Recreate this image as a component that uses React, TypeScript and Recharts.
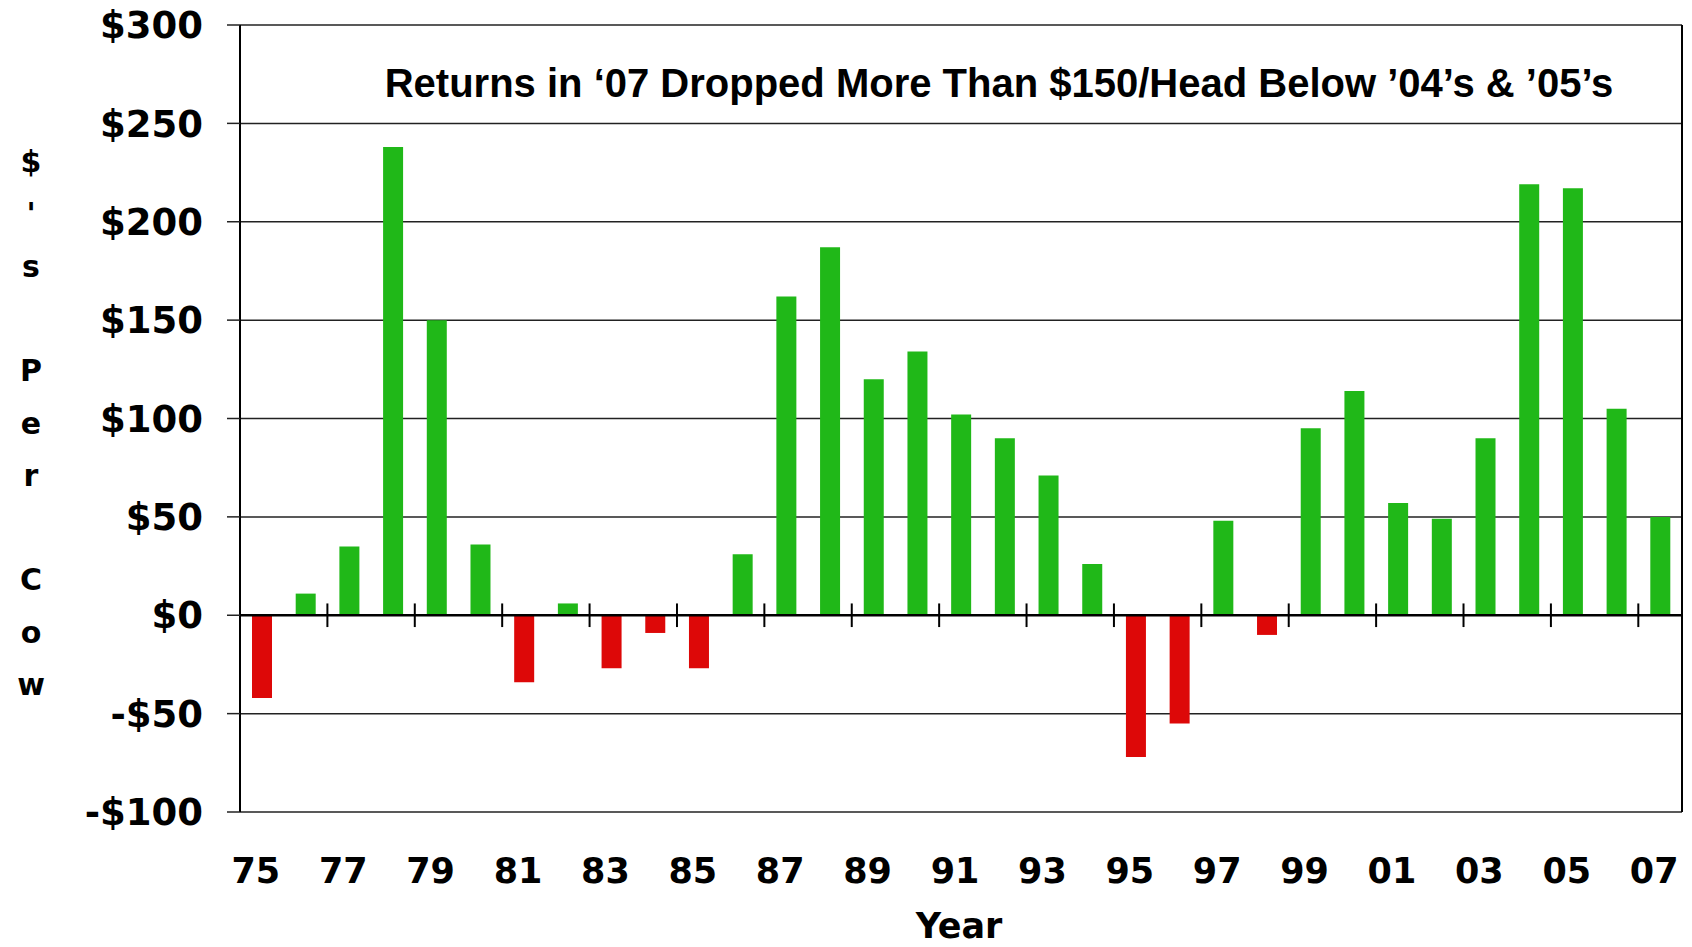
import React from "react";
import { BarChart, Bar, Cell, XAxis, YAxis, CartesianGrid, ReferenceLine } from "recharts";

const years = [
  "75", "76", "77", "78", "79", "80", "81", "82", "83", "84", "85",
  "86", "87", "88", "89", "90", "91", "92", "93", "94", "95", "96",
  "97", "98", "99", "00", "01", "02", "03", "04", "05", "06", "07",
];

// $ per cow
const returns = [
  -42, 11, 35, 238, 150, 36, -34, 6, -27, -9, -27,
  31, 162, 187, 120, 134, 102, 90, 71, 26, -72, -55,
  48, -10, 95, 114, 57, 49, 90, 219, 217, 105, 50,
];

const yTicks = [-100, -50, 0, 50, 100, 150, 200, 250, 300];

const title = "Returns in \u201807 Dropped More Than $150/Head Below \u201904\u2019s & \u201905\u2019s";
const yLabel = ["$", "'", "s", "", "P", "e", "r", "", "C", "o", "w"];
const xLabel = "Year";

const GREEN = "#20B818";
const RED = "#DD0808";
const FONT = "'DejaVu Sans', sans-serif";

const data = years.map((year, i) => ({ year, value: returns[i] }));

// tick marks across the zero line, every second category boundary
const crossTicks = years.filter((_, i) => i > 0 && i % 2 === 0);

const fmt = (v: number) => (v < 0 ? `-$${-v}` : `$${v}`);

export default function App() {
  return (
    <div style={{ position: "absolute", left: 0, top: 0, background: "#fff" }}>
      <BarChart
        width={1692}
        height={947}
        data={data}
        margin={{ top: 25, right: 10, left: 0, bottom: 0 }}
        barSize={20}
      >
        <CartesianGrid vertical={false} stroke="#222" strokeWidth={1.5} />
        <XAxis
          dataKey="year"
          height={135}
          interval={1}
          axisLine={false}
          tickLine={false}
          tickSize={0}
          tickMargin={46}
          tick={{ fill: "#000", fontSize: 35, fontFamily: FONT, fontWeight: "bold", dx: -6 }}
        />
        <YAxis
          width={240}
          domain={[-100, 300]}
          ticks={yTicks}
          tickFormatter={fmt}
          axisLine={{ stroke: "#000", strokeWidth: 2 }}
          tickLine={{ stroke: "#222", strokeWidth: 1.5 }}
          tickSize={13}
          tickMargin={24}
          tick={{ fill: "#000", fontSize: 37, fontFamily: FONT, fontWeight: "bold" }}
        />
        <Bar dataKey="value" isAnimationActive={false}>
          {data.map((d) => (
            <Cell key={d.year} fill={d.value < 0 ? RED : GREEN} />
          ))}
        </Bar>
        <ReferenceLine y={0} stroke="#000" strokeWidth={2.5} />
        <ReferenceLine x={years[years.length - 1]} position="end" stroke="#000" strokeWidth={2} />
        {crossTicks.map((y) => (
          <ReferenceLine
            key={"t" + y}
            segment={[{ x: y, y: -6 }, { x: y, y: 6 }]}
            position="start"
            stroke="#000"
            strokeWidth={2}
          />
        ))}
        <text
          x={999}
          y={97}
          textAnchor="middle"
          fontFamily="'Liberation Sans', Arial, sans-serif"
          fontWeight="bold"
          fontSize={40}
          fill="#000"
        >
          {title}
        </text>
        <text x={31} textAnchor="middle" fontFamily={FONT} fontWeight="bold" fontSize={30} fill="#000">
          {yLabel.map((ch, i) => (
            <tspan key={i} x={31} y={172 + i * 52.3}>
              {ch}
            </tspan>
          ))}
        </text>
        <text x={959} y={938} textAnchor="middle" fontFamily={FONT} fontWeight="bold" fontSize={35} fill="#000">
          {xLabel}
        </text>
      </BarChart>
    </div>
  );
}
